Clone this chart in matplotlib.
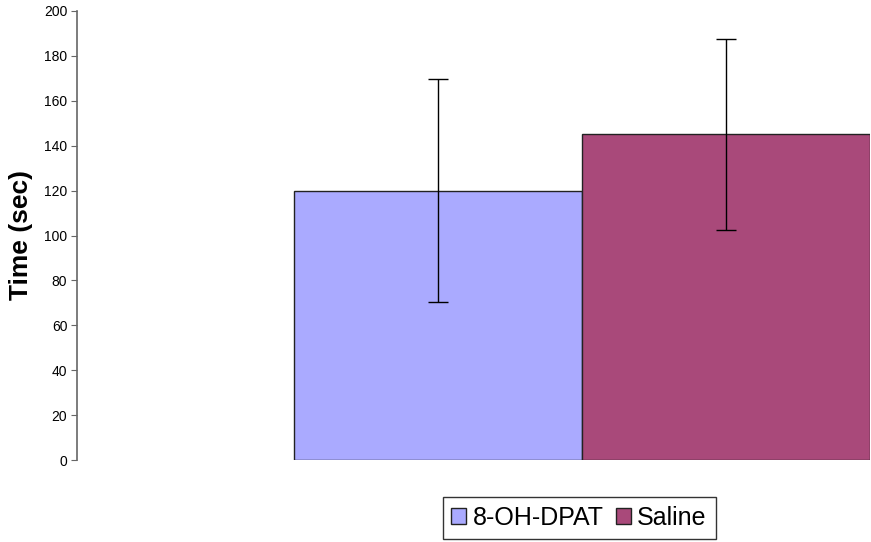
import matplotlib.pyplot as plt

plt.rcParams['font.family'] = ['Liberation Sans', 'DejaVu Sans']

# 数据
groups = ['8-OH-DPAT', 'Saline']
means = [120, 145]
errors = [49.5, 42.5]
colors = ['#AAAAFF', '#A9497A']
yticks = [0, 20, 40, 60, 80, 100, 120, 140, 160, 180, 200]

fig = plt.figure(figsize=(8.71, 5.42), dpi=100)
ax = fig.add_axes([77 / 871, 82 / 542, 793 / 871, 449 / 542])

for i, (name, m, e, c) in enumerate(zip(groups, means, errors, colors)):
    ax.bar(i, m, width=1.0, color=c, edgecolor='#222222', linewidth=1.0,
           label=name, zorder=2)
    ax.errorbar(i, m, yerr=e, fmt='none', ecolor='black',
                elinewidth=1.0, capsize=7, capthick=1.0, zorder=3)

ax.set_xlim(-1.253, 1.5)
ax.set_ylim(0, 200)
ax.set_yticks(yticks)
ax.tick_params(axis='y', labelsize=10, length=4, direction='out',
               color='#666666', pad=3)
ax.set_xticks([])
for s in ['top', 'right', 'bottom']:
    ax.spines[s].set_visible(False)
ax.spines['left'].set_color('#666666')
ax.spines['left'].set_linewidth(1.2)

ax.set_ylabel('Time (sec)', fontsize=19, fontweight='bold', labelpad=8)

leg = fig.legend(loc='center', bbox_to_anchor=(579 / 871, 1 - 518 / 542),
                 ncol=2, fontsize=18, frameon=True, fancybox=False,
                 handlelength=0.6, handleheight=0.6, handletextpad=0.25,
                 columnspacing=0.5, borderpad=0.35, borderaxespad=0)
leg.get_frame().set_edgecolor('black')
leg.get_frame().set_linewidth(1.0)

fig.savefig('out.png', dpi=100)
